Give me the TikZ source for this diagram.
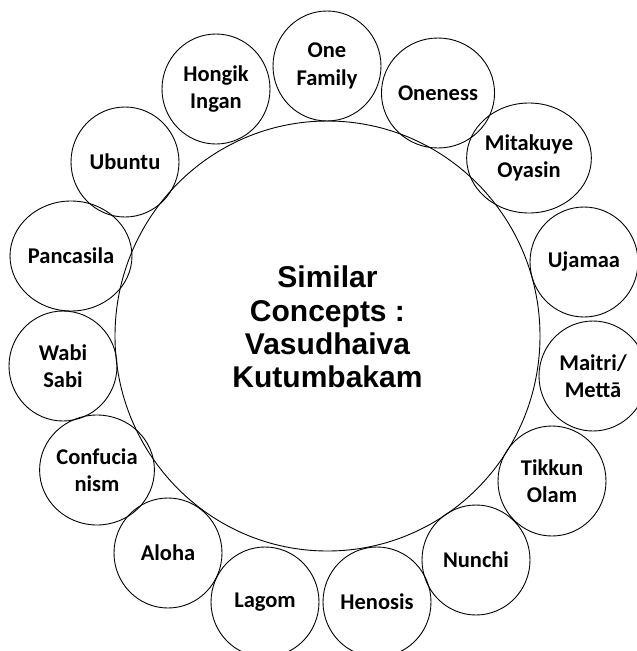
\documentclass[tikz,border=0pt]{standalone}
\usepackage{fontspec}
\setmainfont{Carlito}
\newfontfamily\hubfont{Liberation Sans}
\usetikzlibrary{shapes.geometric}
\begin{document}
\begin{tikzpicture}[x=1pt,y=-1pt,
  ring/.style={draw, ellipse, line width=0.9pt, inner sep=0pt},
  hub/.style={ring, minimum width=425pt, minimum height=430pt},
  hubtext/.style={align=center, inner sep=0pt,
    font=\hubfont\bfseries\fontsize{30}{33.3}\selectfont},
  concept/.style={ring, minimum width=108pt, minimum height=110pt, align=center,
    font=\bfseries\fontsize{22.5}{27.5}\selectfont}]
\useasboundingbox (0,0) rectangle (637,651);

% central circle and its title
\node[hub] (hub) at (327.5,336) {};
\node[hubtext] (title) at (327.5,327) {Similar\\Concepts :\\Vasudhaiva\\Kutumbakam};

% surrounding concepts, clockwise from the top
\node[concept] (onefamily) at (327,66)  {One\\Family};
\node[concept] (oneness)   at (438,93)  {Oneness};
\node[concept] (mitakuye)  at (529,158) {Mitakuye\\Oyasin};
\node[concept] (ujamaa)    at (584,262) {Ujamaa};
\node[concept] (maitri)    at (593,376) {Maitri/\\Mettā};
\node[concept] (tikkun)    at (552,481) {Tikkun\\Olam};
\node[concept] (nunchi)    at (476,560) {Nunchi};
\node[concept] (henosis)   at (377,602) {Henosis};
\node[concept] (lagom)     at (265,602) {Lagom};
\node[concept] (aloha)     at (168,553) {Aloha};
\node[concept] (confucian) at (97,470)  {Confucia\\nism};
\node[concept] (wabisabi)  at (63,366)  {Wabi\\Sabi};
\node[concept] (pancasila) at (71,256)  {Pancasila};
\node[concept] (ubuntu)    at (125,162) {Ubuntu};
\node[concept] (hongik)    at (216,89)  {Hongik\\Ingan};
\end{tikzpicture}
\end{document}
